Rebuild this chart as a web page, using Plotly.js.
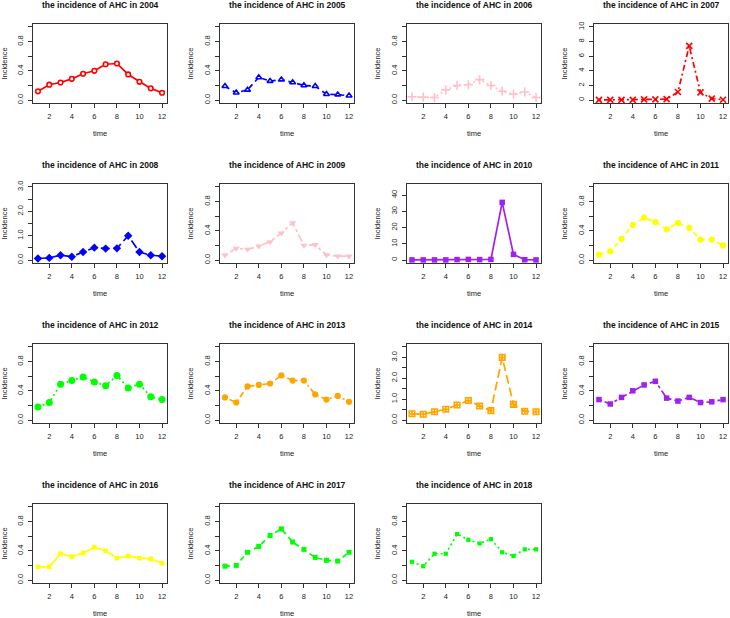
<!DOCTYPE html>
<html><head><meta charset="utf-8">
<script src="https://cdn.plot.ly/plotly-3.0.1.min.js"></script>
<style>html,body{margin:0;padding:0;background:#fff}</style>
</head><body><div id="chart" style="width:730px;height:618px"></div>
<script>
const months = [1,2,3,4,5,6,7,8,9,10,11,12];
const xTickVals = [2,4,6,8,10,12];
const years = ['2004','2005','2006','2007','2008','2009','2010','2011','2012','2013','2014','2015','2016','2017','2018'];

const y2004 = [0.12,0.21,0.24,0.29,0.36,0.40,0.49,0.50,0.35,0.25,0.16,0.10];
const y2005 = [0.19,0.10,0.14,0.31,0.26,0.28,0.24,0.20,0.19,0.08,0.075,0.06];
const y2006 = [0.045,0.04,0.035,0.14,0.20,0.21,0.28,0.20,0.12,0.08,0.11,0.035];
const y2007 = [0.02,0.02,0.02,0.03,0.1,0.1,0.13,1.1,7.4,1.05,0.2,0.05];
const y2008 = [0.065,0.09,0.2,0.14,0.33,0.51,0.47,0.48,1.0,0.33,0.2,0.16];
const y2009 = [0.067,0.16,0.147,0.19,0.25,0.37,0.51,0.20,0.21,0.07,0.053,0.053];
const y2010 = [0.1,0.1,0.1,0.1,0.3,0.4,0.3,0.4,35.5,3.5,0.2,0.1];
const y2011 = [0.076,0.12,0.29,0.48,0.58,0.52,0.42,0.51,0.44,0.28,0.28,0.20];
const y2012 = [0.18,0.24,0.49,0.54,0.59,0.52,0.47,0.61,0.44,0.49,0.32,0.28];
const y2013 = [0.31,0.24,0.46,0.48,0.50,0.61,0.54,0.54,0.35,0.28,0.33,0.25];
const y2014 = [0.3,0.28,0.4,0.52,0.72,0.94,0.67,0.45,3.0,0.75,0.42,0.4];
const y2015 = [0.28,0.22,0.31,0.40,0.48,0.53,0.30,0.26,0.31,0.24,0.25,0.28];
const y2016 = [0.18,0.18,0.36,0.32,0.37,0.45,0.40,0.30,0.33,0.30,0.29,0.23];
const y2017 = [0.19,0.20,0.38,0.46,0.61,0.70,0.52,0.42,0.31,0.27,0.26,0.38];
const y2018 = [0.25,0.19,0.36,0.36,0.63,0.55,0.50,0.56,0.38,0.33,0.42,0.42];
const series = [y2004,y2005,y2006,y2007,y2008,y2009,y2010,y2011,y2012,y2013,y2014,y2015,y2016,y2017,y2018];

// y axis upper limits per panel
const yMax = [1,1,1,10,3,1,45,1,1,1,3.5,1,1,1,1];

// styles
const colors = ['#FF0000','#0000FF','#FFC0CB','#FF0000','#0000FF','#FFC0CB','#A020F0','#FFFF00','#00FF00','#FFA500','#FFA500','#A020F0','#FFFF00','#00FF00','#00FF00'];
const symbols = ['circle','triangle-up','cross-thin-open','x-thin-open','diamond','triangle-down','square','circle','circle','circle','square-cross-open','square','square','square','square'];
const symFill = ['white','white',null,null,'c','c','c','c','c','c',null,'c','c','c','c'];
const symSize = [4.6,5.2,6.5,6,6.5,6.5,5.5,6.2,7,6.2,5.5,5.5,4.6,5,4.2];
const LTY = {solid:'solid', dashed:'5px,4px', dotted:'2px,3px', dotdash:'2px,3px,6px,3px', longdash:'9px,4px', twodash:'3px,3px,8px,3px'};
const ltyOrder = ['solid','dashed','dotted','dotdash','longdash','twodash'];

const W = 730, H = 618;
const FONT = 'Liberation Sans, Arial, Helvetica, sans-serif';
const TXT = '#222222';
const traces = [];
const layout = {
  width: W, height: H, margin: {l:0, r:0, t:0, b:0},
  paper_bgcolor: '#fff', plot_bgcolor: '#fff', showlegend: false,
  font: {family: FONT, color: TXT},
  annotations: []
};

function yTicks(M) {
  let step, labelEvery, dec;
  if (M === 1) { step = 0.2; labelEvery = 2; dec = 1; }
  else if (M === 10) { step = 2; labelEvery = 1; dec = 0; }
  else if (M === 45) { step = 10; labelEvery = 1; dec = 0; }
  else { step = 0.5; labelEvery = 2; dec = 1; }
  const vals = [], text = [];
  for (let k = 0; k * step <= M + 1e-9; k++) {
    const v = +(k * step).toFixed(3);
    vals.push(v);
    text.push(k % labelEvery === 0 ? v.toFixed(dec) : '');
  }
  return {vals, text};
}

series.forEach((ys, i) => {
  const r = Math.floor(i / 4), c = i % 4;
  const left = 33 + 187 * c, right = left + 134;
  const top = 24 + 160 * r, bottom = top + 79;
  const ax = i === 0 ? '' : String(i + 1);
  const col = colors[i];
  const fill = symFill[i] === 'c' ? col : (symFill[i] || col);
  const open = symFill[i] === 'white' || symFill[i] === null;
  traces.push({
    x: months, y: ys, type: 'scatter', mode: 'lines+markers',
    xaxis: 'x' + ax, yaxis: 'y' + ax,
    line: {color: col, width: 1.7, dash: LTY[ltyOrder[i % 6]]},
    marker: {symbol: symbols[i], size: symSize[i], color: fill,
             line: {color: col, width: open ? 1.6 : 0}},
    cliponaxis: false, hoverinfo: 'x+y'
  });
  const M = yMax[i];
  const yt = yTicks(M);
  const common = {
    showline: true, mirror: true, linecolor: '#333', linewidth: 1,
    ticks: 'outside', ticklen: 4, tickwidth: 1, tickcolor: '#333',
    showgrid: false, zeroline: false,
    tickfont: {size: 7.5, family: FONT, color: TXT}
  };
  layout['xaxis' + ax] = Object.assign({}, common, {
    domain: [left / W, right / W], anchor: 'y' + ax,
    range: [0.56, 12.44], tickmode: 'array', tickvals: xTickVals,
    ticklabelstandoff: 2,
    title: {text: 'time', font: {size: 7.5, family: FONT, color: TXT}, standoff: 10}
  });
  layout['yaxis' + ax] = Object.assign({}, common, {
    domain: [1 - bottom / H, 1 - top / H], anchor: 'x' + ax,
    range: [-0.04 * M, 1.04 * M], tickmode: 'array',
    tickvals: yt.vals, ticktext: yt.text, tickangle: -90,
    ticklabelstandoff: 2,
    title: {text: 'Incidence', font: {size: 7.5, family: FONT, color: TXT}, standoff: 8}
  });
  layout.annotations.push({
    text: 'the incidence of AHC in ' + years[i],
    xref: 'paper', yref: 'paper',
    x: (left + right) / 2 / W, y: 1 - (top - 19) / H,
    xanchor: 'center', yanchor: 'middle', showarrow: false,
    font: {size: 8.5, family: FONT, color: '#111', weight: 'bold'}
  });
});

Plotly.newPlot('chart', traces, layout, {staticPlot: true});
</script>
</body></html>
